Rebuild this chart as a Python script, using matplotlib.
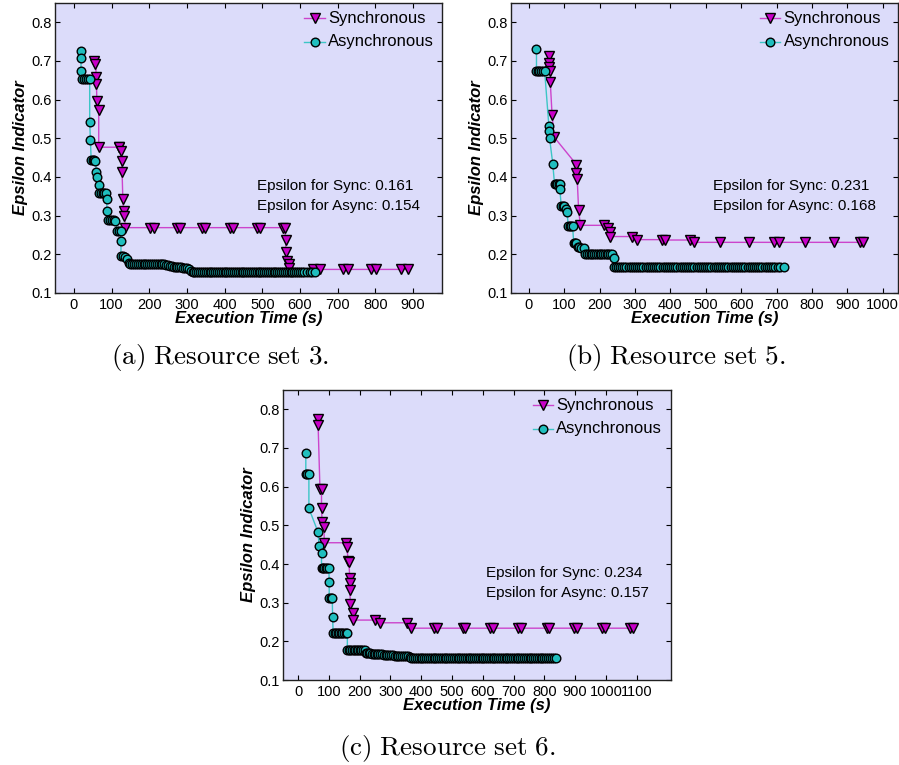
import matplotlib
matplotlib.use('Agg')
import matplotlib.pyplot as plt
from matplotlib.lines import Line2D

plt.rcParams['font.family'] = ['Liberation Sans', 'DejaVu Sans']
plt.rcParams['mathtext.fontset'] = 'cm'

# ---------------- data ----------------
y_ticks = [0.1, 0.2, 0.3, 0.4, 0.5, 0.6, 0.7, 0.8]
y_tick_labels = ['0.1', '0.2', '0.3', '0.4', '0.5', '0.6', '0.7', '0.8']
a_x_ticks = [0, 100, 200, 300, 400, 500, 600, 700, 800, 900]
b_x_ticks = [0, 100, 200, 300, 400, 500, 600, 700, 800, 900, 1000]
c_x_ticks = [0, 100, 200, 300, 400, 500, 600, 700, 800, 900, 1000, 1100]

series_names = ['Synchronous', 'Asynchronous']
captions = ['(a) Resource set 3.', '(b) Resource set 5.', '(c) Resource set 6.']
eps_sync = ['0.161', '0.231', '0.234']
eps_async = ['0.154', '0.168', '0.157']

# Panel (a) - Resource set 3
a_sync_t = [53, 57, 60, 60, 61, 66, 66,
            119, 121, 125, 127, 128, 130, 132, 134, 137,
            203, 212, 273, 282, 340, 348, 414, 423, 487, 494, 556, 560,
            562, 563, 566, 570, 572,
            635, 654, 714, 728, 789, 802, 869, 886]
a_sync_e = [0.701, 0.693, 0.658, 0.641, 0.596, 0.574, 0.477,
            0.477, 0.477, 0.468, 0.441, 0.412, 0.342, 0.313, 0.299, 0.269,
            0.269, 0.269, 0.269, 0.269, 0.269, 0.269, 0.269, 0.269, 0.269, 0.269, 0.269, 0.269,
            0.236, 0.206, 0.184, 0.176, 0.164,
            0.161, 0.161, 0.161, 0.161, 0.161, 0.161, 0.161, 0.161]

a_async_t = [19, 19, 19, 22, 27, 32, 37, 42, 42, 44,
             46, 50, 54, 57, 60, 62, 66, 66, 71, 76,
             81, 86, 87, 88, 91, 96, 101, 106, 110, 115,
             119, 124, 125, 125, 130, 135, 141, 146, 150, 155,
             160, 165, 170, 175, 180, 185, 190, 195, 200, 205,
             210, 215, 220, 225, 230, 235, 240, 245, 250, 255,
             260, 265, 270, 275, 280, 285, 290, 295, 300, 305,
             310, 315, 320, 325, 330, 335, 340, 345, 350, 355,
             360, 365, 370, 375, 380, 385, 390, 395, 400, 405,
             410, 415, 420, 425, 430, 435, 440, 445, 450, 455,
             460, 465, 470, 475, 480, 485, 490, 495, 500, 505,
             510, 515, 520, 525, 530, 535, 540, 545, 550, 555,
             560, 565, 570, 575, 580, 585, 590, 595, 600, 605,
             612, 619, 626, 633, 640]
a_async_e = [0.725, 0.708, 0.673, 0.654, 0.654, 0.654, 0.654, 0.654, 0.543, 0.496,
             0.443, 0.443, 0.443, 0.441, 0.414, 0.400, 0.380, 0.358, 0.358, 0.358,
             0.358, 0.358, 0.344, 0.312, 0.289, 0.289, 0.289, 0.288, 0.287, 0.260,
             0.260, 0.260, 0.234, 0.195, 0.195, 0.193, 0.189, 0.178, 0.176, 0.176,
             0.176, 0.176, 0.176, 0.176, 0.176, 0.176, 0.176, 0.176, 0.176, 0.176,
             0.176, 0.176, 0.176, 0.176, 0.176, 0.175, 0.174, 0.172, 0.172, 0.171,
             0.170, 0.168, 0.167, 0.167, 0.166, 0.166, 0.165, 0.165, 0.165, 0.163,
             0.157, 0.154, 0.154, 0.154, 0.154, 0.154, 0.154, 0.154, 0.154, 0.154,
             0.154, 0.154, 0.154, 0.154, 0.154, 0.154, 0.154, 0.154, 0.154, 0.154,
             0.154, 0.154, 0.154, 0.154, 0.154, 0.154, 0.154, 0.154, 0.154, 0.154,
             0.154, 0.154, 0.154, 0.154, 0.154, 0.154, 0.154, 0.154, 0.154, 0.154,
             0.154, 0.154, 0.154, 0.154, 0.154, 0.154, 0.154, 0.154, 0.154, 0.154,
             0.154, 0.154, 0.154, 0.154, 0.154, 0.154, 0.154, 0.154, 0.154, 0.154,
             0.154, 0.154, 0.154, 0.154, 0.154]

# Panel (b) - Resource set 5
b_sync_t = [58, 58, 58, 61, 61, 66, 72, 135, 135, 137,
            141, 146, 214, 223, 229, 229, 292, 306, 376, 386,
            456, 466, 541, 621, 692, 706, 781, 861, 936, 945]
b_sync_e = [0.714, 0.694, 0.684, 0.673, 0.645, 0.561, 0.503, 0.432, 0.411, 0.395,
            0.315, 0.275, 0.275, 0.269, 0.257, 0.246, 0.246, 0.238, 0.238, 0.237,
            0.237, 0.231, 0.231, 0.231, 0.231, 0.231, 0.231, 0.231, 0.231, 0.231]

b_async_t = [22, 22, 26, 30, 35, 40, 45, 57, 58, 59,
             68, 73, 77, 81, 85, 88, 88, 92, 96, 100,
             104, 108, 112, 116, 120, 124, 127, 131, 135, 139,
             143, 148, 155, 160, 165, 170, 175, 180, 185, 190,
             195, 200, 205, 210, 215, 220, 225, 230, 235, 240,
             240, 246, 252, 258, 264, 270, 276, 282, 288, 294,
             300, 306, 312, 318, 324, 330, 336, 342, 348, 354,
             360, 366, 372, 378, 384, 390, 396, 402, 408, 414,
             420, 426, 432, 438, 444, 450, 456, 462, 468, 474,
             480, 486, 492, 498, 504, 510, 516, 522, 528, 534,
             540, 546, 552, 558, 564, 570, 576, 582, 588, 594,
             600, 606, 612, 618, 624, 630, 636, 642, 648, 654,
             660, 666, 672, 678, 684, 690, 697, 704, 711, 722]
b_async_e = [0.731, 0.675, 0.675, 0.675, 0.675, 0.675, 0.675, 0.533, 0.520, 0.500,
             0.434, 0.381, 0.381, 0.381, 0.381, 0.381, 0.368, 0.324, 0.324, 0.324,
             0.318, 0.309, 0.274, 0.274, 0.274, 0.274, 0.230, 0.230, 0.230, 0.219,
             0.219, 0.217, 0.217, 0.201, 0.201, 0.201, 0.201, 0.201, 0.201, 0.201,
             0.201, 0.201, 0.201, 0.201, 0.201, 0.201, 0.201, 0.201, 0.201, 0.190,
             0.168, 0.168, 0.168, 0.168, 0.168, 0.168, 0.168, 0.168, 0.168, 0.168,
             0.168, 0.168, 0.168, 0.168, 0.168, 0.168, 0.168, 0.168, 0.168, 0.168,
             0.168, 0.168, 0.168, 0.168, 0.168, 0.168, 0.168, 0.168, 0.168, 0.168,
             0.168, 0.168, 0.168, 0.168, 0.168, 0.168, 0.168, 0.168, 0.168, 0.168,
             0.168, 0.168, 0.168, 0.168, 0.168, 0.168, 0.168, 0.168, 0.168, 0.168,
             0.168, 0.168, 0.168, 0.168, 0.168, 0.168, 0.168, 0.168, 0.168, 0.168,
             0.168, 0.168, 0.168, 0.168, 0.168, 0.168, 0.168, 0.168, 0.168, 0.168,
             0.168, 0.168, 0.168, 0.168, 0.168, 0.168, 0.168, 0.168, 0.168, 0.168]

# Panel (c) - Resource set 6
c_sync_t = [65, 65, 71, 76, 76, 78, 84, 85, 157, 158,
            163, 165, 168, 168, 168, 170, 177, 177, 250, 266,
            353, 366, 442, 450, 535, 543, 625, 633, 716, 724,
            808, 816, 898, 906, 988, 996, 1079, 1087]
c_sync_e = [0.774, 0.759, 0.593, 0.593, 0.544, 0.509, 0.496, 0.455, 0.455, 0.445,
            0.408, 0.404, 0.363, 0.350, 0.334, 0.296, 0.274, 0.255, 0.255, 0.248,
            0.248, 0.234, 0.234, 0.234, 0.234, 0.234, 0.234, 0.234, 0.234, 0.234,
            0.234, 0.234, 0.234, 0.234, 0.234, 0.234, 0.234, 0.234]

c_async_t = [25, 25, 30, 35, 35, 65, 68, 76, 76, 80,
             85, 90, 95, 100, 101, 101, 106, 111, 112, 114,
             119, 124, 129, 134, 139, 144, 149, 154, 160, 160,
             165, 170, 175, 180, 185, 190, 195, 200, 205, 210,
             217, 220, 225, 230, 235, 240, 245, 250, 255, 260,
             266, 272, 278, 284, 290, 296, 302, 308, 314, 320,
             326, 332, 338, 344, 350, 356, 362, 368, 374, 380,
             386, 392, 398, 404, 410, 416, 422, 428, 434, 440,
             446, 452, 458, 464, 470, 476, 482, 488, 494, 500,
             506, 512, 518, 524, 530, 536, 542, 548, 554, 560,
             566, 572, 578, 584, 590, 596, 602, 608, 614, 620,
             626, 632, 638, 644, 650, 656, 662, 668, 674, 680,
             686, 692, 698, 704, 710, 716, 722, 728, 734, 740,
             746, 752, 758, 764, 770, 776, 782, 788, 794, 800,
             806, 812, 818, 824, 831, 838]
c_async_e = [0.688, 0.632, 0.632, 0.632, 0.544, 0.482, 0.447, 0.428, 0.389, 0.389,
             0.389, 0.389, 0.389, 0.389, 0.353, 0.313, 0.313, 0.313, 0.264, 0.221,
             0.221, 0.221, 0.221, 0.221, 0.221, 0.221, 0.221, 0.221, 0.221, 0.178,
             0.178, 0.178, 0.178, 0.178, 0.178, 0.178, 0.178, 0.178, 0.178, 0.178,
             0.178, 0.170, 0.169, 0.169, 0.169, 0.168, 0.168, 0.167, 0.167, 0.167,
             0.166, 0.166, 0.165, 0.165, 0.165, 0.164, 0.164, 0.164, 0.163, 0.163,
             0.163, 0.163, 0.163, 0.162, 0.162, 0.162, 0.159, 0.157, 0.157, 0.157,
             0.157, 0.157, 0.157, 0.157, 0.157, 0.157, 0.157, 0.157, 0.157, 0.157,
             0.157, 0.157, 0.157, 0.157, 0.157, 0.157, 0.157, 0.157, 0.157, 0.157,
             0.157, 0.157, 0.157, 0.157, 0.157, 0.157, 0.157, 0.157, 0.157, 0.157,
             0.157, 0.157, 0.157, 0.157, 0.157, 0.157, 0.157, 0.157, 0.157, 0.157,
             0.157, 0.157, 0.157, 0.157, 0.157, 0.157, 0.157, 0.157, 0.157, 0.157,
             0.157, 0.157, 0.157, 0.157, 0.157, 0.157, 0.157, 0.157, 0.157, 0.157,
             0.157, 0.157, 0.157, 0.157, 0.157, 0.157, 0.157, 0.157, 0.157, 0.157,
             0.157, 0.157, 0.157, 0.157, 0.157, 0.157]

# ---------------- style ----------------
BG = '#DCDCFA'
SYNC_FILL = '#C800C8'
SYNC_LINE = '#CC44CC'
ASYNC_FILL = '#20BEBE'
ASYNC_LINE = '#3CC6C6'

sync_style = dict(color=SYNC_LINE, lw=1.0, marker='v', ms=7.2, mfc=SYNC_FILL,
                  mec='black', mew=1.0)
async_style = dict(color=ASYNC_LINE, lw=1.0, marker='o', ms=6.2, mfc=ASYNC_FILL,
                   mec='black', mew=1.0)

fig = plt.figure(figsize=(8.99, 7.65), dpi=100)


def panel(rect, xmax, xticks, st, se, at, ae, es, ea, caption, cap_xy):
    ax = fig.add_axes(rect)
    ax.set_facecolor(BG)
    ax.plot(st, se, zorder=3, **sync_style)
    ax.plot(at, ae, zorder=4, **async_style)
    ax.set_xlim(-50, xmax)
    ax.set_ylim(0.1, 0.85)
    ax.set_xticks(xticks)
    ax.set_xticklabels([str(v) for v in xticks])
    ax.set_yticks(y_ticks)
    ax.set_yticklabels(y_tick_labels)
    ax.tick_params(direction='in', top=True, right=True, length=3.5, width=0.8,
                   labelsize=10.5, colors='black')
    ax.tick_params(axis='y', pad=2.5)
    ax.tick_params(axis='x', pad=3.5)
    for s in ax.spines.values():
        s.set_linewidth(1.0)
        s.set_color('#202020')
    ax.set_xlabel('Execution Time (s)', fontsize=12, fontweight='bold',
                  fontstyle='italic')
    ax.set_ylabel('Epsilon Indicator', fontsize=12, fontweight='bold',
                  fontstyle='italic')
    ax.xaxis.set_label_coords(0.5, -0.088)
    ax.xaxis.label.set_va('center')
    ax.yaxis.set_label_coords(-0.088, 0.5)
    ax.yaxis.label.set_va('center')

    # legend (gnuplot style: sample first, then text)
    rows = [(0.948, sync_style, series_names[0]), (0.866, async_style, series_names[1])]
    for yy, sty, name in rows:
        ax.add_line(Line2D([0.644, 0.697], [yy, yy], transform=ax.transAxes,
                           color=sty['color'], lw=1.0, zorder=5))
        ax.add_line(Line2D([0.6705], [yy], transform=ax.transAxes, ls='none',
                           marker=sty['marker'], ms=sty['ms'], mfc=sty['mfc'],
                           mec='black', mew=1.0, zorder=6))
        ax.text(0.705, yy, name, transform=ax.transAxes, fontsize=12,
                ha='left', va='center')

    ax.text(0.523, 0.369, 'Epsilon for Sync: ' + es, transform=ax.transAxes,
            fontsize=11, ha='left', va='center')
    ax.text(0.523, 0.300, 'Epsilon for Async: ' + ea, transform=ax.transAxes,
            fontsize=11, ha='left', va='center')

    fig.text(cap_xy[0], cap_xy[1], r'$\mathrm{' + caption.replace(' ', r'\ ') + '}$',
             ha='center', va='center', fontsize=19.5)
    return ax


panel([0.0612, 0.6170, 0.4305, 0.3791], 977, a_x_ticks,
      a_sync_t, a_sync_e, a_async_t, a_async_e, eps_sync[0], eps_async[0],
      captions[0], (0.2453, 0.533))
panel([0.5684, 0.6170, 0.4301, 0.3791], 1042, b_x_ticks,
      b_sync_t, b_sync_e, b_async_t, b_async_e, eps_sync[1], eps_async[1],
      captions[1], (0.752, 0.533))
panel([0.3145, 0.1111, 0.4316, 0.3791], 1211, c_x_ticks,
      c_sync_t, c_sync_e, c_async_t, c_async_e, eps_sync[2], eps_async[2],
      captions[2], (0.498, 0.0222))

fig.savefig('out.png', dpi=100, facecolor='white')
